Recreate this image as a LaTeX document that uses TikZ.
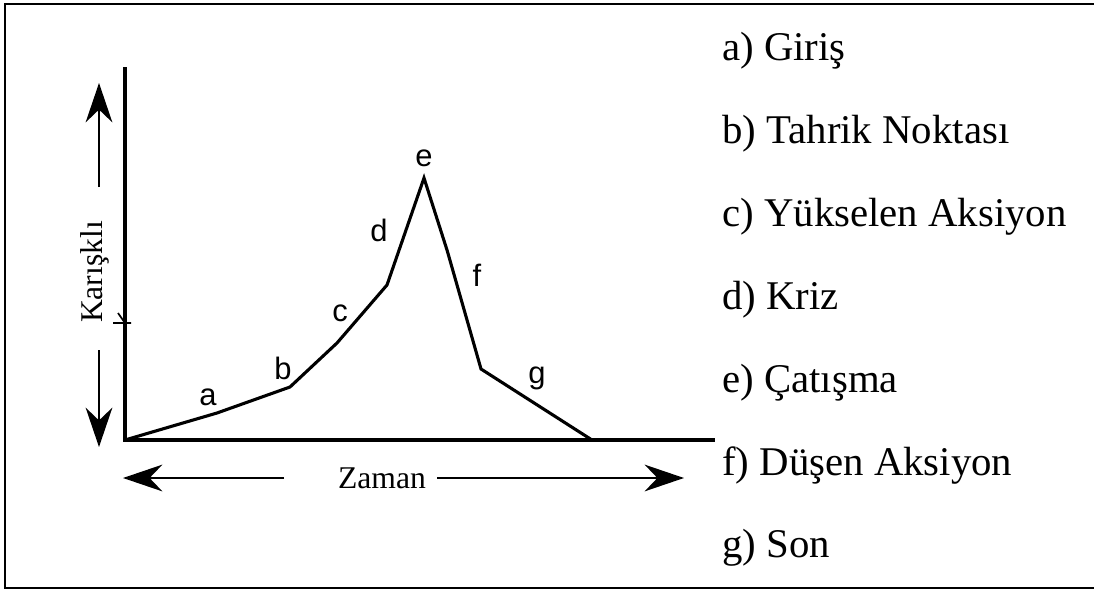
\documentclass[tikz,border=0pt]{standalone}
\usepackage{fontspec}
\setmainfont{Liberation Serif}
\setsansfont{Liberation Sans}
\usetikzlibrary{arrows.meta}

\begin{document}
\begin{tikzpicture}[x=0.025cm,y=-0.025cm,
  seg/.style={inner sep=0pt,font=\sffamily\fontsize{22}{26}\selectfont},
  item/.style={anchor=base west,inner sep=0pt,font=\fontsize{29}{34}\selectfont},
  axlabel/.style={inner sep=0pt,font=\fontsize{22.5}{27}\selectfont},
  bigarrow/.style={line width=1.4pt,-{Stealth[length=28pt,width=19pt]}}]
\useasboundingbox (0,0) rectangle (1094,592);
% frame
\draw[line width=2pt] (1094,4) -- (5,4) -- (5,588) -- (1094,588);
% axes
\coordinate (o) at (125,440);
\coordinate (ytop) at (125,67);
\coordinate (xend) at (715,440);
\draw[line width=2.2pt] (ytop) -- (o) -- (xend);
\draw[line width=1.2pt] (113,323) -- (131,323) (118,313) -- (125,323);
% curve
\coordinate (p1) at (217,413);
\coordinate (pb) at (290,387);
\coordinate (p2) at (337,343);
\coordinate (pd) at (387,285);
\coordinate (pe) at (424,178);
\coordinate (p3) at (447,250);
\coordinate (pf) at (481,369);
\coordinate (pg) at (592,440);
\draw[line width=2.2pt,line join=miter] (o) -- (p1) -- (pb) -- (p2) -- (pd) -- (pe) -- (p3) -- (pf) -- (pg);
% letters
\node[seg] (la) at (208,397) {a};
\node[seg] (lb) at (283,368) {b};
\node[seg] (lc) at (340,313) {c};
\node[seg] (ld) at (379,230) {d};
\node[seg] (le) at (424,158) {e};
\node[seg] (lf) at (477,275) {f};
\node[seg] (lg) at (537,378) {g};
% axis labels
\node[axlabel,rotate=90] (kar) at (95,272) {Karışklı};
\coordinate (kup) at (99,187);
\coordinate (kuptip) at (99,83);
\coordinate (kdn) at (99,350);
\coordinate (kdntip) at (99,447);
\draw[bigarrow] (kup) -- (kuptip);
\draw[bigarrow] (kdn) -- (kdntip);
\node[axlabel] (zam) at (382,478) {Zaman};
\coordinate (zl) at (284,478);
\coordinate (zltip) at (123,478);
\coordinate (zr) at (437,478);
\coordinate (zrtip) at (684,478);
\draw[bigarrow] (zl) -- (zltip);
\draw[bigarrow] (zr) -- (zrtip);
% legend
\node[item] (ia) at (722,60) {a) Giriş};
\node[item] (ib) at (722,143) {b) Tahrik Noktası};
\node[item] (ic) at (722,226) {c) Yükselen Aksiyon};
\node[item] (id) at (722,309) {d) Kriz};
\node[item] (ie) at (722,392) {e) Çatışma};
\node[item] (if) at (722,475) {f) Düşen Aksiyon};
\node[item] (ig) at (722,557) {g) Son};
\end{tikzpicture}
\end{document}
